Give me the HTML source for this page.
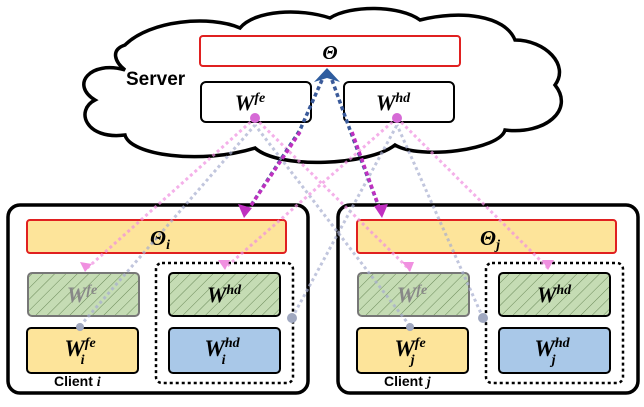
<!DOCTYPE html>
<html><head><meta charset="utf-8"><style>
body{margin:0;background:#fff;}
svg text{font-family:"Liberation Serif",serif;font-weight:bold;font-style:italic;}
.s{font-family:"Liberation Sans",sans-serif;font-style:normal;font-weight:bold;}
</style></head><body>
<svg width="644" height="402" viewBox="0 0 644 402" xmlns="http://www.w3.org/2000/svg">
<defs>
<pattern id="h" width="8" height="8" patternUnits="userSpaceOnUse" patternTransform="rotate(45)">
<rect width="8" height="8" fill="#c5dcb4"/><line x1="0" y1="0" x2="0" y2="8" stroke="#6b8a5a" stroke-width="1"/></pattern>
</defs>
<path d="M125,70 C90,60 70,85 95,100 C75,110 85,140 125,135 C130,155 200,165 255,148 C280,170 370,165 395,145 C420,160 500,150 505,130 C545,135 575,110 555,85 C570,65 545,40 515,40 C505,15 460,10 420,20 C400,5 350,5 330,18 C300,8 255,10 240,28 C210,15 150,20 125,45 C110,50 115,62 125,70 Z" fill="#fff" stroke="#000" stroke-width="3.5"/>
<text x="126" y="85" class="s" font-size="19">Server</text>
<rect x="200" y="36" width="260" height="30" rx="3" fill="#fff" stroke="#e02020" stroke-width="2"/>
<text x="330" y="59" font-size="20" text-anchor="middle">Θ</text>
<rect x="201" y="82" width="110" height="40" rx="5" fill="#fff" stroke="#000" stroke-width="2"/>
<text x="250" y="110" font-size="22" text-anchor="middle">W<tspan font-size="14" dy="-8">fe</tspan></text>
<rect x="344" y="82" width="110" height="40" rx="5" fill="#fff" stroke="#000" stroke-width="2"/>
<text x="393" y="110" font-size="22" text-anchor="middle">W<tspan font-size="14" dy="-8">hd</tspan></text>

<g>
<rect x="8" y="205" width="300" height="188" rx="12" fill="#fff" stroke="#000" stroke-width="3.5"/>
<rect x="27" y="220" width="259" height="33" rx="3" fill="#fde49a" stroke="#e02020" stroke-width="2"/>
<text x="160" y="245" font-size="21" text-anchor="middle">Θ<tspan font-size="14" dy="4">i</tspan></text>
<rect x="28" y="273" width="111" height="43" rx="4" fill="url(#h)" stroke="#777" stroke-width="2"/>
<text x="82" y="302" font-size="22" text-anchor="middle" fill="#888">W<tspan font-size="14" dy="-8">fe</tspan></text>
<rect x="156" y="263" width="137" height="120" rx="6" fill="none" stroke="#000" stroke-width="2.5" stroke-dasharray="3,3"/>
<rect x="169" y="273" width="111" height="43" rx="4" fill="url(#h)" stroke="#000" stroke-width="2"/>
<text x="224" y="302" font-size="22" text-anchor="middle">W<tspan font-size="14" dy="-8">hd</tspan></text>
<rect x="27" y="328" width="111" height="45" rx="4" fill="#fde49a" stroke="#000" stroke-width="2"/>
<text x="80" y="356" font-size="23" text-anchor="middle">W<tspan font-size="14" dy="-9">fe</tspan><tspan font-size="14" dx="-15" dy="17">i</tspan></text>
<rect x="169" y="328" width="111" height="45" rx="4" fill="#a9c8e8" stroke="#000" stroke-width="2"/>
<text x="222" y="356" font-size="23" text-anchor="middle">W<tspan font-size="14" dy="-9">hd</tspan><tspan font-size="14" dx="-18" dy="17">i</tspan></text>
<text x="54" y="386" class="s" font-size="14">Client <tspan font-family="Liberation Serif" font-style="italic">i</tspan></text>
</g>
<g transform="translate(330,0)">
<rect x="8" y="205" width="300" height="188" rx="12" fill="#fff" stroke="#000" stroke-width="3.5"/>
<rect x="27" y="220" width="259" height="33" rx="3" fill="#fde49a" stroke="#e02020" stroke-width="2"/>
<text x="160" y="245" font-size="21" text-anchor="middle">Θ<tspan font-size="14" dy="4">j</tspan></text>
<rect x="28" y="273" width="111" height="43" rx="4" fill="url(#h)" stroke="#777" stroke-width="2"/>
<text x="82" y="302" font-size="22" text-anchor="middle" fill="#888">W<tspan font-size="14" dy="-8">fe</tspan></text>
<rect x="156" y="263" width="137" height="120" rx="6" fill="none" stroke="#000" stroke-width="2.5" stroke-dasharray="3,3"/>
<rect x="169" y="273" width="111" height="43" rx="4" fill="url(#h)" stroke="#000" stroke-width="2"/>
<text x="224" y="302" font-size="22" text-anchor="middle">W<tspan font-size="14" dy="-8">hd</tspan></text>
<rect x="27" y="328" width="111" height="45" rx="4" fill="#fde49a" stroke="#000" stroke-width="2"/>
<text x="80" y="356" font-size="23" text-anchor="middle">W<tspan font-size="14" dy="-9">fe</tspan><tspan font-size="14" dx="-15" dy="17">j</tspan></text>
<rect x="169" y="328" width="111" height="45" rx="4" fill="#a9c8e8" stroke="#000" stroke-width="2"/>
<text x="222" y="356" font-size="23" text-anchor="middle">W<tspan font-size="14" dy="-9">hd</tspan><tspan font-size="14" dx="-18" dy="17">j</tspan></text>
<text x="54" y="386" class="s" font-size="14">Client <tspan font-family="Liberation Serif" font-style="italic">j</tspan></text>
</g>

<g fill="none" stroke-width="3" stroke-dasharray="3,3" opacity="0.7">
<path d="M255,118 L85,270" stroke="#f090e0"/>
<path d="M255,118 L410,270" stroke="#f090e0"/>
<path d="M80,326 L255,125" stroke="#a8aed0"/>
<path d="M410,326 L255,125" stroke="#a8aed0"/>
<path d="M397,118 L225,268" stroke="#f090e0"/>
<path d="M397,118 L548,268" stroke="#f090e0"/>
<path d="M292,318 L397,125" stroke="#a8aed0"/>
<path d="M483,318 L397,125" stroke="#a8aed0"/>
</g>
<g fill="none" stroke-width="3.5" stroke-dasharray="4,3">
<path d="M322,80 L300,130 L248,210" stroke="#3a5a9a"/>
<path d="M332,80 L350,130 L380,210" stroke="#3a5a9a"/>
<path d="M300,132 L248,210" stroke="#c030c0"/>
<path d="M352,132 L380,210" stroke="#c030c0"/>
</g>
<polygon points="327,68 314,82 327,78 340,82" fill="#2f5d9f"/>
<polygon points="244,218 238,204 252,208" fill="#c030c0"/>
<polygon points="382,218 374,206 388,204" fill="#c030c0"/>
<circle cx="255" cy="118" r="5" fill="#d66ad6"/>
<circle cx="397" cy="118" r="5" fill="#d66ad6"/>
<circle cx="80" cy="327" r="4" fill="#a0a8c0"/>
<circle cx="410" cy="327" r="4" fill="#a0a8c0"/>
<circle cx="292" cy="318" r="5" fill="#a0a8c0"/>
<circle cx="483" cy="318" r="5" fill="#a0a8c0"/>
<polygon points="85,272 80,262 92,264" fill="#f090e0"/>
<polygon points="225,270 218,260 230,260" fill="#f090e0"/>
<polygon points="410,272 402,262 414,262" fill="#f090e0"/>
<polygon points="548,270 542,260 554,260" fill="#f090e0"/>
</svg>
</body></html>
